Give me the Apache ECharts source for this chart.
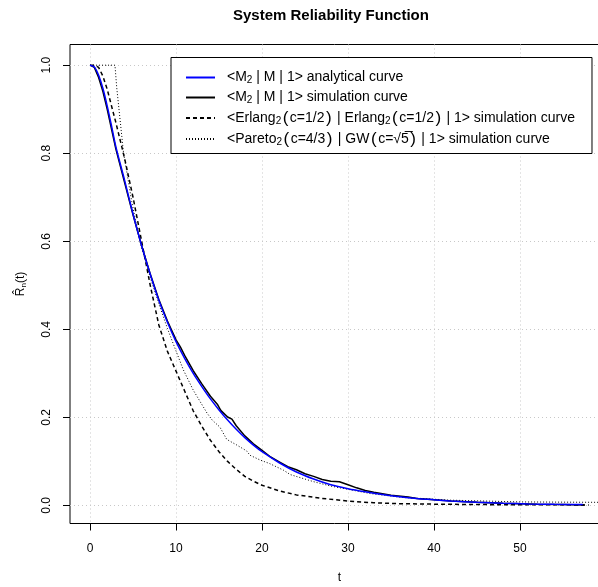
<!DOCTYPE html>
<html>
<head>
<meta charset="utf-8">
<script src="https://cdn.jsdelivr.net/npm/echarts@6/dist/echarts.min.js"></script>
<style>
html,body{margin:0;padding:0;background:#fff;}
#c{width:598px;height:587px;}
</style>
</head>
<body>
<div id="c"></div>
<script>
// ---- data (t, R) ----
const analyticalT = [0,0.5,1,1.5,2,2.5,3,4,5,6,7,8,9,10,11,12,13,14,15,16,17,18,19,20,22,24,26,28,30,32,34,36,38,40,42,45,48,51,54,57.3];
const analyticalR = [1,0.996,0.977,0.947,0.907,0.862,0.815,0.74,0.662,0.59,0.525,0.466,0.416,0.372,0.334,0.30,0.27,0.242,0.217,0.194,0.173,0.154,0.137,0.122,0.097,0.076,0.06,0.047,0.038,0.031,0.025,0.02,0.016,0.013,0.01,0.007,0.005,0.0035,0.0025,0.002];

const simT = [0,0.5,1,1.5,2,3,4,5,6,7,8,9,10,10.5,11,12,13,14,14.8,15.2,16,16.5,17,18,19,20,21,22,23,24,25,26,27,28,29,30,31,32,33,35,37,38,40,42,45,48,52,55,57.5];
const simR = [1,0.995,0.972,0.94,0.9,0.81,0.735,0.66,0.59,0.526,0.468,0.419,0.376,0.36,0.341,0.306,0.276,0.248,0.23,0.216,0.201,0.196,0.181,0.158,0.14,0.125,0.11,0.099,0.088,0.081,0.072,0.066,0.059,0.055,0.054,0.047,0.04,0.034,0.03,0.023,0.019,0.016,0.013,0.01,0.007,0.005,0.003,0.002,0.001];

const erlangT = [0,0.5,1,1.5,2,3,4,5,6,7,7.5,8,9,10,11,12,13,14,15,16,17,18,19,20,22,24,27,30,33,36,40,45,50,55,58];
const erlangR = [1,1,0.995,0.975,0.945,0.87,0.79,0.70,0.60,0.50,0.455,0.41,0.35,0.305,0.26,0.215,0.18,0.148,0.122,0.10,0.082,0.066,0.055,0.046,0.033,0.024,0.016,0.01,0.006,0.004,0.003,0.002,0.0015,0.0015,0.001];

const paretoT = [0,2.9,3.0,3.1,3.5,3.9,4.3,4.85,5.8,7,8,9,9.7,10.85,12,13.6,14.2,15.1,15.9,17,18.2,18.6,19.8,20.9,22.5,23.3,26,28,32.6,36.4,38.4,41.9,46,50,55,60.3];
const paretoR = [1,1,0.975,0.95,0.875,0.80,0.755,0.69,0.6,0.518,0.458,0.402,0.366,0.308,0.262,0.21,0.194,0.178,0.15,0.138,0.124,0.114,0.103,0.095,0.08,0.07,0.054,0.044,0.027,0.018,0.016,0.012,0.01,0.008,0.0075,0.007];

const xTicks = [0,10,20,30,40,50];
const yTicks = [0,0.2,0.4,0.6,0.8,1.0];

const pair = (ts, rs) => ts.map((t,i)=>[t, rs[i]]);

const FONT = 'Liberation Sans, Arial, sans-serif';
const LF = 14;
const rich = {
  t: {fontSize: LF, fontFamily: FONT, color: '#000', lineHeight: 16},
  p: {fontSize: LF, fontFamily: FONT, color: '#000', lineHeight: 16, padding: [0,0,0,7]},
  P: {fontSize: 17, fontFamily: FONT, color: '#000', lineHeight: 16, padding: [0,1.5,0,1.5]},
  s: {fontSize: 10, fontFamily: FONT, color: '#000', lineHeight: 16, verticalAlign: 'bottom'}
};
const legendText = {
  a: '{p|<M}{s|2}{t| | M | 1> analytical curve}',
  b: '{p|<M}{s|2}{t| | M | 1> simulation curve}',
  c: '{p|<Erlang}{s|2}{P|(}{t|c=1/2}{P|)}{t| | Erlang}{s|2}{P|(}{t|c=1/2}{P|)}{t| | 1> simulation curve}',
  d: '{p|<Pareto}{s|2}{P|(}{t|c=4/3}{P|)}{t| | GW}{P|(}{t|c=\u221A5\u0305}{P|)}{t| | 1> simulation curve}'
};

const chart = echarts.init(document.getElementById('c'), null, {renderer: 'canvas'});
chart.setOption({
  animation: false,
  backgroundColor: '#fff',
  title: {
    text: 'System Reliability Function',
    left: 228, top: 3,
    textStyle: {fontFamily: FONT, fontWeight: 'bold', fontSize: 15, color: '#000'}
  },
  legend: {
    orient: 'vertical',
    left: 171, top: 57.5,
    padding: [12, 17, 6, 14],
    borderColor: '#000', borderWidth: 1,
    backgroundColor: '#fff',
    itemWidth: 29, itemHeight: 16, itemGap: 4,
    itemStyle: {opacity: 0},
    data: ['a','b','c','d'],
    formatter: n => legendText[n],
    textStyle: {rich: rich, fontSize: LF, lineHeight: 16, fontFamily: FONT, color: '#000'}
  },
  grid: {left: 70, right: -11, top: 44.5, bottom: 63.5, outerBoundsMode: 'none', containLabel: false,
    show: true, borderColor: '#000', borderWidth: 1, backgroundColor: 'transparent'},
  xAxis: {
    type: 'value', min: -2.33, max: 60.35,
    name: 't', nameLocation: 'middle', nameGap: 48,
    nameTextStyle: {fontFamily: FONT, fontSize: 12, color: '#000'},
    axisLine: {show: false, onZero: false},
    axisTick: {show: true, length: 7, inside: false, customValues: xTicks, lineStyle: {color: '#000'}},
    axisLabel: {customValues: xTicks, margin: 19, fontFamily: FONT, fontSize: 12, color: '#000'},
    splitLine: {show: true, lineStyle: {type: [1,3], color: '#c8c8c8'}}
  },
  yAxis: {
    type: 'value', min: -0.041, max: 1.047,
    name: '{r|R\u0302}{n|n}{r|(t)}', nameLocation: 'middle', nameGap: 42, nameRotate: 90,
    nameTextStyle: {fontFamily: FONT, fontSize: 12, color: '#000', rich: {
      r: {fontFamily: FONT, fontSize: 12, color: '#000', lineHeight: 14},
      n: {fontFamily: FONT, fontSize: 8, color: '#000', lineHeight: 14, verticalAlign: 'bottom'}
    }},
    axisLine: {show: false, onZero: false},
    axisTick: {show: true, length: 7, customValues: yTicks, lineStyle: {color: '#000'}},
    axisLabel: {customValues: yTicks, rotate: 90, margin: 17, fontFamily: FONT, fontSize: 12, color: '#000',
      formatter: v => v.toFixed(1)},
    splitLine: {show: true, lineStyle: {type: [1,3], color: '#c8c8c8'}}
  },
  series: [
    {name: 'd', type: 'line', data: pair(paretoT, paretoR), symbol: 'none', showSymbol: false,
     lineStyle: {color: '#000', width: 1, type: [1,2]}, itemStyle: {color: '#000'}, z: 2},
    {name: 'c', type: 'line', data: pair(erlangT, erlangR), symbol: 'none', showSymbol: false,
     lineStyle: {color: '#000', width: 1.5, type: [4,3]}, itemStyle: {color: '#000'}, z: 3},
    {name: 'b', type: 'line', data: pair(simT, simR), symbol: 'none', showSymbol: false,
     lineStyle: {color: '#000', width: 1.5}, itemStyle: {color: '#000'}, z: 4},
    {name: 'a', type: 'line', data: pair(analyticalT, analyticalR), symbol: 'none', showSymbol: false, smooth: 0.3,
     lineStyle: {color: '#0000ff', width: 1.5}, itemStyle: {color: '#0000ff'}, z: 5}
  ]
});
</script>
</body>
</html>
